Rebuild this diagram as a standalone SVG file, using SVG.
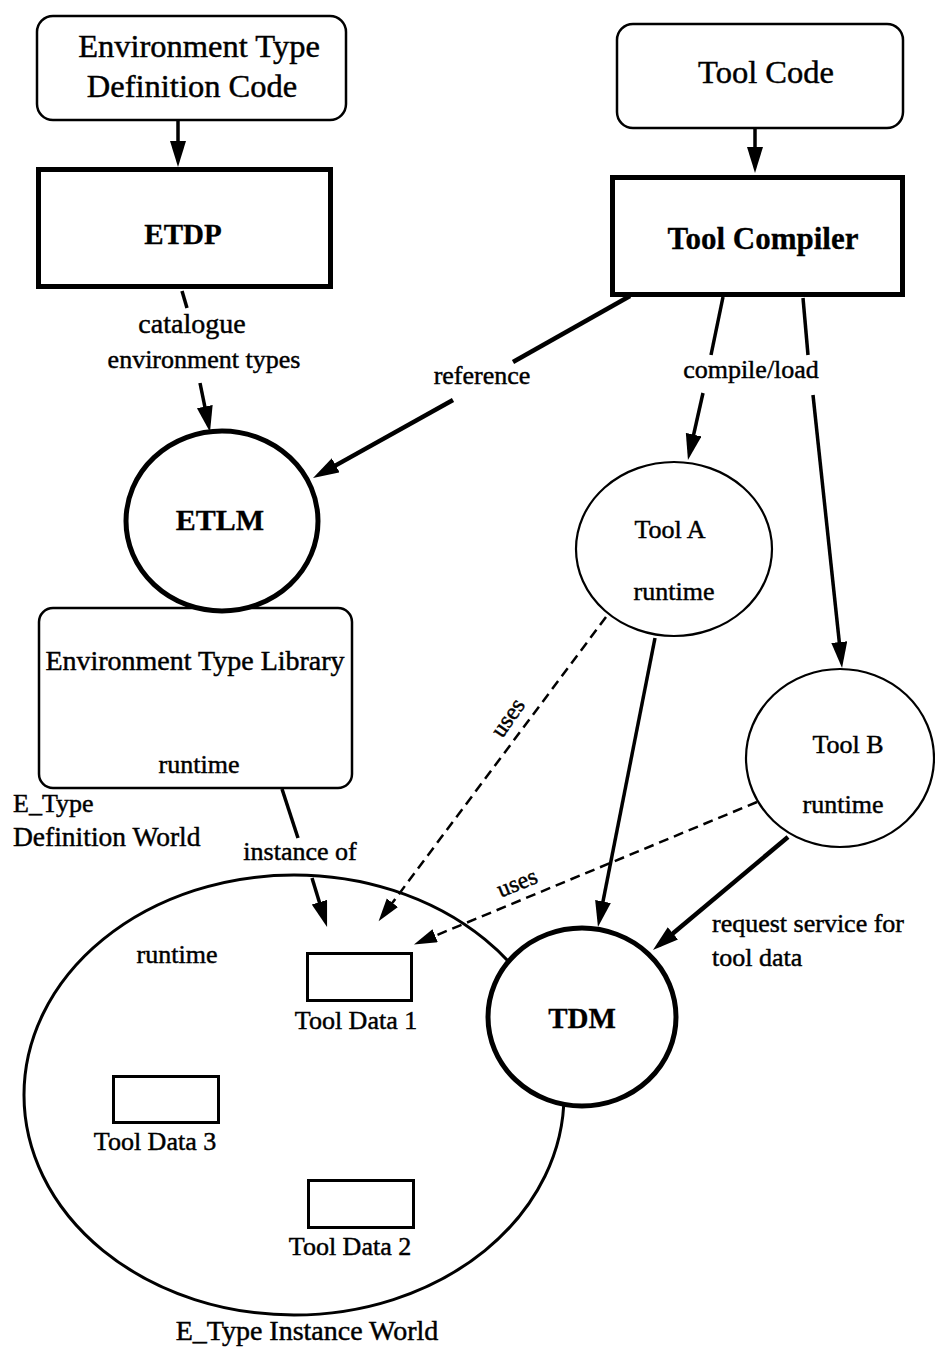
<svg xmlns="http://www.w3.org/2000/svg" width="935" height="1348" viewBox="0 0 935 1348">
  <style>
    text { font-family: "Liberation Serif", "Times New Roman", serif; fill: #000; stroke: #000; stroke-width: 0.45; }
    .big { font-size: 32.5px; }
    .bold { font-size: 29px; font-weight: bold; stroke-width: 0.3; }
    .lbl { font-size: 26px; }
    .small { font-size: 24px; }
    .mid { text-anchor: middle; }
    .soft { fill: #fff; stroke: #000; stroke-width: 2.5; }
    .heavy { fill: #fff; stroke: #000; stroke-width: 5; }
    .thin { fill: #fff; stroke: #000; stroke-width: 2.2; }
    .box { fill: #fff; stroke: #000; stroke-width: 3; }
    .edge { stroke: #000; stroke-width: 3.5; fill: none; }
    .thick { stroke-width: 4.5; }
    .dash { stroke: #000; stroke-width: 2.5; fill: none; stroke-dasharray: 10 6; }
  </style>
  <defs>
    <marker id="arrow" markerUnits="userSpaceOnUse" markerWidth="28" markerHeight="18" refX="18" refY="8" orient="auto">
      <path d="M0,0 L26,8 L0,16 z" fill="#000"/>
    </marker>
    <marker id="arrow-s" markerUnits="userSpaceOnUse" markerWidth="26" markerHeight="16" refX="16" refY="7" orient="auto">
      <path d="M0,0 L23,7 L0,14 z" fill="#000"/>
    </marker>
  </defs>

  <rect width="935" height="1348" fill="#fff"/>

  <!-- instance world (drawn under the connectors) -->
  <g id="instance-world">
    <ellipse cx="294" cy="1095" rx="270" ry="220" fill="none" stroke="#000" stroke-width="3"/>
    <text class="lbl mid" x="177" y="963">runtime</text>
    <text class="lbl mid" x="307" y="1340" style="font-size:28px">E_Type Instance World</text>
  </g>

  <!-- connectors -->
  <g id="connectors">
    <line class="edge" x1="178" y1="121" x2="178" y2="159" marker-end="url(#arrow)"/>
    <line class="edge" x1="755" y1="129" x2="755" y2="165" marker-end="url(#arrow)"/>

    <!-- ETDP to ETLM -->
    <line class="edge" x1="182" y1="291" x2="187" y2="308"/>
    <line class="edge" x1="200" y1="383" x2="208.4" y2="424.2" marker-end="url(#arrow)"/>

    <!-- Tool Compiler to ETLM -->
    <line class="edge thick" x1="630" y1="296" x2="513" y2="362"/>
    <line class="edge thick" x1="453" y1="400" x2="320" y2="474.1" marker-end="url(#arrow)"/>

    <!-- compile/load -->
    <line class="edge" x1="723" y1="297" x2="711" y2="355"/>
    <line class="edge" x1="703" y1="393" x2="689.7" y2="452.2" marker-end="url(#arrow)"/>
    <line class="edge" x1="803" y1="298" x2="808" y2="355"/>
    <line class="edge" x1="813" y1="395" x2="841.2" y2="660" marker-end="url(#arrow)"/>

    <!-- tools to TDM -->
    <line class="edge" x1="655" y1="638" x2="599.5" y2="919.2" marker-end="url(#arrow)"/>
    <line class="edge thick" x1="788" y1="837" x2="659.1" y2="944.9" marker-end="url(#arrow)"/>

    <!-- instance of -->
    <line class="edge" x1="282" y1="789" x2="298" y2="838"/>
    <line class="edge" x1="312" y1="878" x2="324.7" y2="919.4" marker-end="url(#arrow)"/>

    <!-- uses -->
    <line class="dash" x1="606" y1="617" x2="382.8" y2="915.6" marker-end="url(#arrow-s)"/>
    <line class="dash" x1="757" y1="802" x2="420.4" y2="941.9" marker-end="url(#arrow-s)"/>

    <text class="lbl mid" x="192" y="333" style="font-size:28px">catalogue</text>
    <text class="lbl mid" x="204" y="368">environment types</text>
    <text class="lbl mid" x="482" y="384">reference</text>
    <text class="lbl mid" x="751" y="378">compile/load</text>
    <text class="lbl mid" x="300" y="860">instance of</text>
    <text class="lbl" x="712" y="932">request service for</text>
    <text class="lbl" x="712" y="966">tool data</text>
    <text class="small mid" transform="translate(514,722) rotate(-55)">uses</text>
    <text class="small mid" transform="translate(520,890) rotate(-22)">uses</text>
  </g>

  <g id="env-type-code">
    <rect class="soft" x="37" y="16" width="309" height="104" rx="16"/>
    <text class="big mid" x="199" y="57">Environment Type</text>
    <text class="big mid" x="192" y="97">Definition Code</text>
  </g>

  <g id="tool-code">
    <rect class="soft" x="617" y="24" width="286" height="104" rx="16"/>
    <text class="big mid" x="766" y="83">Tool Code</text>
  </g>

  <g id="etdp">
    <rect class="heavy" x="38.5" y="169.5" width="292" height="117"/>
    <text class="bold mid" x="183" y="244">ETDP</text>
  </g>

  <g id="tool-compiler">
    <rect class="heavy" x="612.5" y="177.5" width="290" height="117"/>
    <text class="bold mid" x="763" y="249" style="font-size:31px">Tool Compiler</text>
  </g>

  <g id="env-type-library">
    <rect class="soft" x="39" y="608" width="313" height="180" rx="14"/>
    <text class="lbl mid" x="195" y="670" style="font-size:28px">Environment Type Library</text>
    <text class="lbl mid" x="199" y="773">runtime</text>
    <text class="lbl" x="13" y="812">E_Type</text>
    <text class="lbl" x="13" y="846" style="font-size:27.5px">Definition World</text>
  </g>

  <g id="etlm">
    <ellipse class="heavy" cx="222" cy="521" rx="96" ry="90"/>
    <text class="bold mid" x="220" y="530" style="font-size:30px">ETLM</text>
  </g>

  <g id="tool-a">
    <ellipse class="thin" cx="674" cy="549" rx="98" ry="87"/>
    <text class="lbl mid" x="670" y="538">Tool A</text>
    <text class="lbl mid" x="674" y="600">runtime</text>
  </g>

  <g id="tool-b">
    <ellipse class="thin" cx="840" cy="758" rx="94" ry="89"/>
    <text class="lbl mid" x="848" y="753">Tool B</text>
    <text class="lbl mid" x="843" y="813">runtime</text>
  </g>

  <g id="tdm">
    <ellipse class="heavy" cx="582" cy="1017" rx="94" ry="89"/>
    <text class="bold mid" x="582" y="1028">TDM</text>
  </g>

  <g id="tool-data-1">
    <rect class="box" x="307.5" y="953.5" width="104" height="47"/>
    <text class="lbl mid" x="356" y="1029">Tool Data 1</text>
  </g>

  <g id="tool-data-3">
    <rect class="box" x="113.5" y="1076.5" width="105" height="46"/>
    <text class="lbl mid" x="155" y="1150">Tool Data 3</text>
  </g>

  <g id="tool-data-2">
    <rect class="box" x="308.5" y="1180.5" width="105" height="47"/>
    <text class="lbl mid" x="350" y="1255">Tool Data 2</text>
  </g>
</svg>
